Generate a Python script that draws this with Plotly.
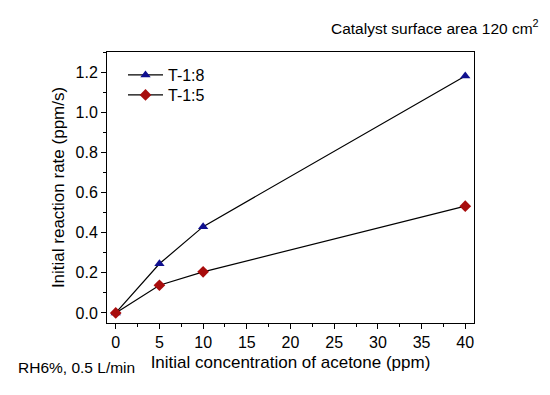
import plotly.graph_objects as go

conc = [0, 5, 10, 40]
rate_t18 = [0.0, 0.245, 0.43, 1.18]
rate_t15 = [0.0, 0.138, 0.205, 0.532]
x_ticks = [0, 5, 10, 15, 20, 25, 30, 35, 40]
y_ticks = [0.0, 0.2, 0.4, 0.6, 0.8, 1.0, 1.2]

FONT = "Liberation Sans, Arial, sans-serif"

# page body has an 8px margin, so the figure is drawn at (8, 8)
OFF = 8
W, H = 550 - OFF, 395 - OFF
L, T = 107 - OFF, 52 - OFF
PW, PH = 367, 271
R, B = W - L - PW, H - T - PH


def px_x(sx):
    return (sx - OFF - L) / PW


def px_y(sy):
    return (H - B - (sy - OFF)) / PH


fig = go.Figure()
fig.add_trace(go.Scatter(
    x=conc, y=rate_t18, mode="lines+markers", name="T-1:8", legend="legend",
    line=dict(color="black", width=1.2),
    marker=dict(symbol="triangle-up", size=9, color="#10108f", line=dict(width=0)),
))
fig.add_trace(go.Scatter(
    x=conc, y=rate_t15, mode="lines+markers", name="T-1:5", legend="legend2",
    line=dict(color="black", width=1.2),
    marker=dict(symbol="diamond", size=9, color="#a80c0c", line=dict(width=0)),
))

axis_common = dict(
    showline=True, linecolor="black", linewidth=1, mirror=True,
    ticks="outside", ticklen=5, tickwidth=1, tickcolor="black",
    showgrid=False, zeroline=False,
    tickfont=dict(family=FONT, size=16, color="black"),
)

fig.update_xaxes(
    range=[-1, 41], tickvals=x_ticks, ticktext=[str(v) for v in x_ticks],
    minor=dict(ticks="outside", ticklen=3, tickwidth=1, tickcolor="black", dtick=2.5, tick0=0),
    title=dict(text="Initial concentration of acetone (ppm)", font=dict(family=FONT, size=17, color="black"), standoff=5),
    **axis_common,
)
fig.update_yaxes(
    range=[-0.05, 1.3], tickvals=y_ticks, ticktext=[f"{v:.1f}" for v in y_ticks],
    minor=dict(ticks="outside", ticklen=3, tickwidth=1, tickcolor="black", dtick=0.1, tick0=0),
    title=dict(text="Initial reaction rate (ppm/s)", font=dict(family=FONT, size=17, color="black"), standoff=6),
    **axis_common,
)

fig.add_annotation(
    x=px_x(541), y=px_y(27), xref="paper", yref="paper", xanchor="right", yanchor="middle",
    text="Catalyst surface area 120 cm<sup>2</sup>", showarrow=False,
    font=dict(family=FONT, size=15.5, color="black"),
)
fig.add_annotation(
    x=px_x(16), y=px_y(367), xref="paper", yref="paper", xanchor="left", yanchor="middle",
    text="RH6%, 0.5 L/min", showarrow=False,
    font=dict(family=FONT, size=15.5, color="black"),
)

leg_common = dict(xanchor="left", yanchor="top", bgcolor="rgba(0,0,0,0)",
                  font=dict(family=FONT, size=16, color="black"), itemwidth=35)
fig.update_layout(
    width=W, height=H,
    margin=dict(l=L, r=R, t=T, b=B),
    paper_bgcolor="white", plot_bgcolor="white",
    showlegend=True,
    legend=dict(x=px_x(123), y=px_y(58), **leg_common),
    legend2=dict(x=px_x(123), y=px_y(78), **leg_common),
)

fig.write_html("out.html")
